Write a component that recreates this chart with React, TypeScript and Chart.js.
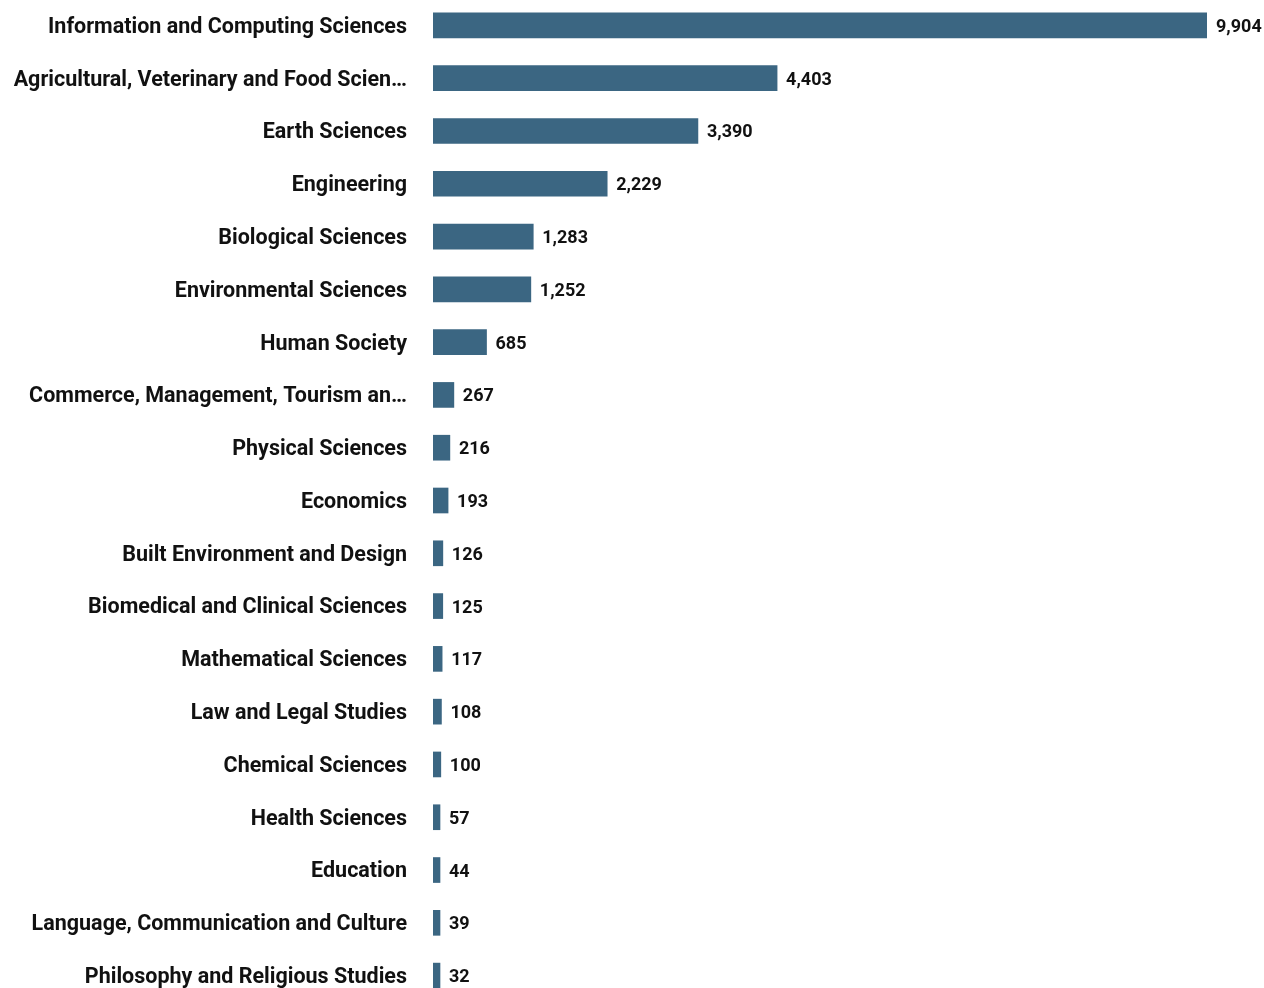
import React, { useEffect, useRef } from "react";
import { Chart, registerables } from "chart.js";

Chart.register(...registerables);

const categories: string[] = [
  "Information and Computing Sciences",
  "Agricultural, Veterinary and Food Scien…",
  "Earth Sciences",
  "Engineering",
  "Biological Sciences",
  "Environmental Sciences",
  "Human Society",
  "Commerce, Management, Tourism an…",
  "Physical Sciences",
  "Economics",
  "Built Environment and Design",
  "Biomedical and Clinical Sciences",
  "Mathematical Sciences",
  "Law and Legal Studies",
  "Chemical Sciences",
  "Health Sciences",
  "Education",
  "Language, Communication and Culture",
  "Philosophy and Religious Studies",
];

const values: number[] = [
  9904, 4403, 3390, 2229, 1283, 1252, 685, 267, 216, 193, 126, 125, 117, 108,
  100, 57, 44, 39, 32,
];

const BAR_COLOR = "#3b6682";
const TEXT_COLOR = "#111111";
const FONT_FAMILY = "Roboto, 'Noto Sans', sans-serif";

const valueLabelPlugin = {
  id: "valueLabels",
  afterDatasetsDraw(chart: any) {
    const ctx = chart.ctx;
    const meta = chart.getDatasetMeta(0);
    ctx.save();
    ctx.font = `bold 18px ${FONT_FAMILY}`;
    ctx.fillStyle = TEXT_COLOR;
    ctx.textAlign = "left";
    ctx.textBaseline = "middle";
    meta.data.forEach((bar: any, i: number) => {
      const v = values[i];
      ctx.fillText(v.toLocaleString("en-US"), bar.x + 9, bar.y + 2);
    });
    ctx.restore();
  },
};

export default function App() {
  const canvasRef = useRef<HTMLCanvasElement | null>(null);

  useEffect(() => {
    if (!canvasRef.current) return;
    const chart = new Chart(canvasRef.current, {
      type: "bar",
      data: {
        labels: categories,
        datasets: [
          {
            data: values,
            backgroundColor: BAR_COLOR,
            barThickness: 25,
            minBarLength: 7,
          },
        ],
      },
      options: {
        indexAxis: "y",
        animation: false,
        responsive: false,
        layout: { padding: { top: 0, bottom: 0, left: 0, right: 57 } },
        plugins: {
          legend: { display: false },
          tooltip: { enabled: false },
        },
        scales: {
          x: {
            display: false,
            min: 0,
            max: Math.max(...values),
          },
          y: {
            border: { display: false },
            grid: { display: false, drawTicks: true, tickLength: 26 },
            ticks: {
              padding: 0,
              labelOffset: 2,
              color: TEXT_COLOR,
              autoSkip: false,
              font: { family: FONT_FAMILY, size: 21.5, weight: "bold" },
            },
            afterFit(scale: any) {
              scale.width = 433;
              scale.paddingTop = 0;
              scale.paddingBottom = 0;
            },
          },
        },
      },
      plugins: [valueLabelPlugin],
    });
    return () => chart.destroy();
  }, []);

  return (
    <div
      style={{
        position: "absolute",
        left: 0,
        top: 0,
        width: 1264,
        height: 988,
        overflow: "hidden",
        background: "#ffffff",
      }}
    >
      <div style={{ position: "absolute", left: 0, top: -1.5, width: 1264, height: 1003 }}>
        <canvas
          ref={canvasRef}
          width={1264}
          height={1003}
          style={{ width: 1264, height: 1003, display: "block" }}
        />
      </div>
    </div>
  );
}
